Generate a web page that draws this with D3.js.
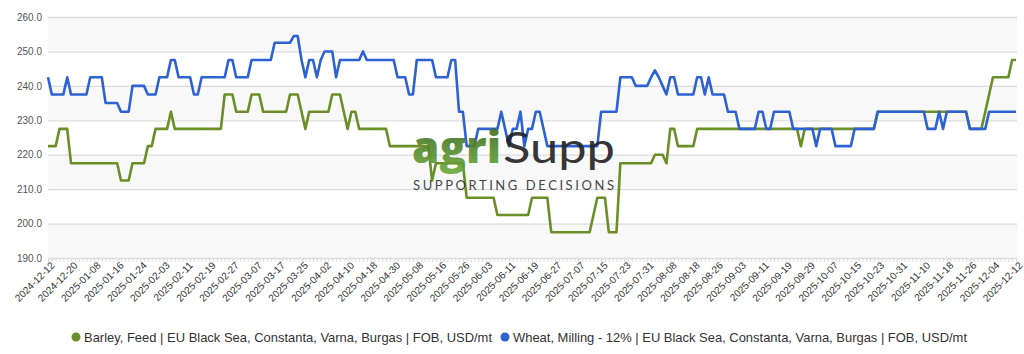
<!DOCTYPE html>
<html>
<head>
<meta charset="utf-8">
<script src="https://cdnjs.cloudflare.com/ajax/libs/d3/7.8.5/d3.min.js"></script>
<style>
  html, body { margin: 0; padding: 0; background: #fff; }
  svg { display: block; }
</style>
</head>
<body>
<script>
// x tick labels, one every 6 trading days
const tickLabels = [
    '2024-12-12', '2024-12-20', '2025-01-08', '2025-01-16', '2025-01-24', '2025-02-03',
    '2025-02-11', '2025-02-19', '2025-02-27', '2025-03-07', '2025-03-17', '2025-03-25',
    '2025-04-02', '2025-04-10', '2025-04-18', '2025-04-30', '2025-05-08', '2025-05-16',
    '2025-05-26', '2025-06-03', '2025-06-11', '2025-06-19', '2025-06-27', '2025-07-07',
    '2025-07-15', '2025-07-23', '2025-07-31', '2025-08-08', '2025-08-18', '2025-08-26',
    '2025-09-03', '2025-09-11', '2025-09-19', '2025-09-29', '2025-10-07', '2025-10-15',
    '2025-10-23', '2025-10-31', '2025-11-10', '2025-11-18', '2025-11-26', '2025-12-04',
    '2025-12-12'
];

const yTicks = [190, 200, 210, 220, 230, 240, 250, 260];

const seriesNames = [
    'Barley, Feed | EU Black Sea, Constanta, Varna, Burgas | FOB, USD/mt',
    'Wheat, Milling - 12% | EU Black Sea, Constanta, Varna, Burgas | FOB, USD/mt'
];

// one row per tick interval (6 trading days)
const barley = [
    222.5, 222.5, 222.5, 227.5, 227.5, 227.5,
    217.5, 217.5, 217.5, 217.5, 217.5, 217.5,
    217.5, 217.5, 217.5, 217.5, 217.5, 217.5,
    217.5, 212.5, 212.5, 212.5, 217.5, 217.5,
    217.5, 217.5, 222.5, 222.5, 227.5, 227.5,
    227.5, 227.5, 232.5, 227.5, 227.5, 227.5,
    227.5, 227.5, 227.5, 227.5, 227.5, 227.5,
    227.5, 227.5, 227.5, 227.5, 237.5, 237.5,
    237.5, 232.5, 232.5, 232.5, 232.5, 237.5,
    237.5, 237.5, 232.5, 232.5, 232.5, 232.5,
    232.5, 232.5, 232.5, 237.5, 237.5, 237.5,
    232.5, 227.5, 232.5, 232.5, 232.5, 232.5,
    232.5, 232.5, 237.5, 237.5, 237.5, 232.5,
    227.5, 232.5, 232.5, 227.5, 227.5, 227.5,
    227.5, 227.5, 227.5, 227.5, 227.5, 222.5,
    222.5, 222.5, 222.5, 222.5, 222.5, 222.5,
    222.5, 222.5, 222.5, 222.5, 212.5, 217.5,
    217.5, 217.5, 217.5, 217.5, 217.5, 217.5,
    217.5, 207.5, 207.5, 207.5, 207.5, 207.5,
    207.5, 207.5, 207.5, 202.5, 202.5, 202.5,
    202.5, 202.5, 202.5, 202.5, 202.5, 202.5,
    207.5, 207.5, 207.5, 207.5, 207.5, 197.5,
    197.5, 197.5, 197.5, 197.5, 197.5, 197.5,
    197.5, 197.5, 197.5, 197.5, 202.5, 207.5,
    207.5, 207.5, 197.5, 197.5, 197.5, 217.5,
    217.5, 217.5, 217.5, 217.5, 217.5, 217.5,
    217.5, 217.5, 220, 220, 220, 217.5,
    227.5, 227.5, 222.5, 222.5, 222.5, 222.5,
    222.5, 227.5, 227.5, 227.5, 227.5, 227.5,
    227.5, 227.5, 227.5, 227.5, 227.5, 227.5,
    227.5, 227.5, 227.5, 227.5, 227.5, 227.5,
    227.5, 227.5, 227.5, 227.5, 227.5, 227.5,
    227.5, 227.5, 227.5, 227.5, 222.5, 227.5,
    227.5, 227.5, 227.5, 227.5, 227.5, 227.5,
    227.5, 227.5, 227.5, 227.5, 227.5, 227.5,
    227.5, 227.5, 227.5, 227.5, 227.5, 227.5,
    232.5, 232.5, 232.5, 232.5, 232.5, 232.5,
    232.5, 232.5, 232.5, 232.5, 232.5, 232.5,
    232.5, 232.5, 232.5, 232.5, 232.5, 232.5,
    232.5, 232.5, 232.5, 232.5, 232.5, 232.5,
    227.5, 227.5, 227.5, 227.5, 232.5, 237.5,
    242.5, 242.5, 242.5, 242.5, 242.5, 247.5,
    247.5
];

const wheat = [
    242.5, 237.5, 237.5, 237.5, 237.5, 242.5,
    237.5, 237.5, 237.5, 237.5, 237.5, 242.5,
    242.5, 242.5, 242.5, 235, 235, 235,
    235, 232.5, 232.5, 232.5, 240, 240,
    240, 240, 237.5, 237.5, 237.5, 242.5,
    242.5, 242.5, 247.5, 247.5, 242.5, 242.5,
    242.5, 242.5, 237.5, 237.5, 242.5, 242.5,
    242.5, 242.5, 242.5, 242.5, 242.5, 247.5,
    247.5, 242.5, 242.5, 242.5, 242.5, 247.5,
    247.5, 247.5, 247.5, 247.5, 247.5, 252.5,
    252.5, 252.5, 252.5, 252.5, 254.5, 254.5,
    247.5, 242.5, 247.5, 247.5, 242.5, 247.5,
    250, 250, 250, 242.5, 247.5, 247.5,
    247.5, 247.5, 247.5, 247.5, 250, 247.5,
    247.5, 247.5, 247.5, 247.5, 247.5, 247.5,
    247.5, 242.5, 242.5, 242.5, 237.5, 237.5,
    247.5, 247.5, 247.5, 247.5, 247.5, 242.5,
    242.5, 242.5, 242.5, 247.5, 247.5, 232.5,
    232.5, 222.5, 222.5, 222.5, 227.5, 227.5,
    227.5, 227.5, 227.5, 227.5, 232.5, 227.5,
    222.5, 227.5, 227.5, 232.5, 222.5, 227.5,
    227.5, 232.5, 232.5, 227.5, 222.5, 222.5,
    222.5, 222.5, 222.5, 222.5, 222.5, 222.5,
    222.5, 222.5, 222.5, 222.5, 222.5, 222.5,
    232.5, 232.5, 232.5, 232.5, 232.5, 242.5,
    242.5, 242.5, 242.5, 240, 240, 240,
    240, 242.5, 244.5, 242.5, 240, 237.5,
    242.5, 242.5, 237.5, 237.5, 237.5, 237.5,
    237.5, 242.5, 242.5, 237.5, 242.5, 237.5,
    237.5, 237.5, 237.5, 232.5, 232.5, 232.5,
    227.5, 227.5, 227.5, 227.5, 227.5, 232.5,
    232.5, 227.5, 227.5, 232.5, 232.5, 232.5,
    232.5, 232.5, 227.5, 227.5, 227.5, 227.5,
    227.5, 227.5, 222.5, 227.5, 227.5, 227.5,
    227.5, 222.5, 222.5, 222.5, 222.5, 222.5,
    227.5, 227.5, 227.5, 227.5, 227.5, 227.5,
    232.5, 232.5, 232.5, 232.5, 232.5, 232.5,
    232.5, 232.5, 232.5, 232.5, 232.5, 232.5,
    232.5, 227.5, 227.5, 227.5, 232.5, 227.5,
    232.5, 232.5, 232.5, 232.5, 232.5, 232.5,
    227.5, 227.5, 227.5, 227.5, 227.5, 232.5,
    232.5, 232.5, 232.5, 232.5, 232.5, 232.5,
    232.5
];

const colors = ['#6b8f27', '#2e62d2'];

function plot()
{
    const W = 1024, H = 354;
    const left = 48, right = 1016, top = 17, bottom = 258;

    const svg = d3.select('body').append('svg')
        .attr('width', W)
        .attr('height', H);

    const x = d3.scalePoint()
        .domain(d3.range(wheat.length))
        .range([left, right]);
    const y = d3.scaleLinear()
        .domain([190, 260])
        .range([bottom, top]);

    // alternating bands
    svg.append('g').selectAll('rect')
        .data(yTicks.slice(0, -1).filter((d, i) => i % 2 === 0))
        .enter().append('rect')
        .attr('x', left)
        .attr('width', right + 1 - left)
        .attr('y', d => y(d + 10))
        .attr('height', d => y(d) - y(d + 10))
        .attr('fill', '#f8f8f8');

    // grid + y labels
    const yAxis = d3.axisLeft(y)
        .tickValues(yTicks)
        .tickSize(-(right + 1 - left))
        .tickPadding(6)
        .tickFormat(d3.format('.1f'));
    const gy = svg.append('g')
        .attr('transform', `translate(${left},0)`)
        .call(yAxis);
    gy.select('.domain').remove();
    gy.selectAll('line').attr('stroke', '#dcdcdc').attr('stroke-width', 1.3);
    gy.selectAll('text')
        .attr('x', -6)
        .attr('fill', '#555')
        .style('font', '10px "Liberation Sans", Arial, sans-serif');

    // x axis: small tick per day, labels every 6th
    const xAxis = d3.axisBottom(x)
        .tickSize(4)
        .tickFormat(i => i % 6 === 0 ? tickLabels[i / 6] : '');
    const gx = svg.append('g')
        .attr('transform', `translate(0,${bottom})`)
        .call(xAxis);
    gx.select('.domain').attr('stroke', '#dcdcdc');
    gx.selectAll('line').attr('stroke', '#dcdcdc');
    gx.selectAll('text')
        .attr('fill', '#333')
        .style('font', '10px "Liberation Sans", Arial, sans-serif')
        .attr('text-anchor', 'end')
        .attr('dx', '-0.1em')
        .attr('dy', '0.45em')
        .attr('y', 6)
        .attr('transform', 'rotate(-45)');

    // lines
    const line = d3.line()
        .x((d, i) => x(i))
        .y(d => y(d));
    [barley, wheat].forEach((s, k) => {
        svg.append('path')
            .attr('fill', 'none')
            .attr('stroke', colors[k])
            .attr('stroke-width', 2.6)
            .attr('stroke-linejoin', 'round')
            .attr('d', line(s));
    });

    // watermark logo
    const grad = svg.append('defs').append('linearGradient')
        .attr('id', 'logoGreen')
        .attr('x1', 0).attr('y1', 0).attr('x2', 0).attr('y2', 1);
    grad.append('stop').attr('offset', '0%').attr('stop-color', '#2f5a1c');
    grad.append('stop').attr('offset', '100%').attr('stop-color', '#6fae3a');

    const logo = svg.append('g').attr('opacity', 0.9);
    logo.append('text')
        .attr('x', 412).attr('y', 163)
        .attr('textLength', 89)
        .attr('lengthAdjust', 'spacingAndGlyphs')
        .attr('fill', 'url(#logoGreen)')
        .style('font', '800 45px "Open Sans", Lato, sans-serif')
        .text('agri');
    logo.append('text')
        .attr('x', 503).attr('y', 163)
        .attr('textLength', 112)
        .attr('lengthAdjust', 'spacingAndGlyphs')
        .attr('fill', '#222')
        .style('font', '400 43px Lato, "Open Sans", sans-serif')
        .text('Supp');
    logo.append('text')
        .attr('x', 413).attr('y', 190)
        .attr('textLength', 201)
        .attr('lengthAdjust', 'spacing')
        .attr('fill', '#333')
        .style('font', '13px Lato, "Open Sans", sans-serif')
        .text('SUPPORTING DECISIONS');

    // legend
    const legend = svg.append('g');
    const legX = [76, 505], legW = [408, 454];
    seriesNames.forEach((name, k) => {
        legend.append('circle')
            .attr('cx', legX[k]).attr('cy', 337)
            .attr('r', 4.5)
            .attr('fill', colors[k]);
        legend.append('text')
            .attr('x', legX[k] + 8).attr('y', 341.5)
            .attr('textLength', legW[k])
            .attr('lengthAdjust', 'spacingAndGlyphs')
            .attr('fill', '#333')
            .style('font', '13px "Liberation Sans Narrow", "Arial Narrow", "Liberation Sans", Arial, sans-serif')
            .text(name);
    });
}

plot();
</script>
</body>
</html>
